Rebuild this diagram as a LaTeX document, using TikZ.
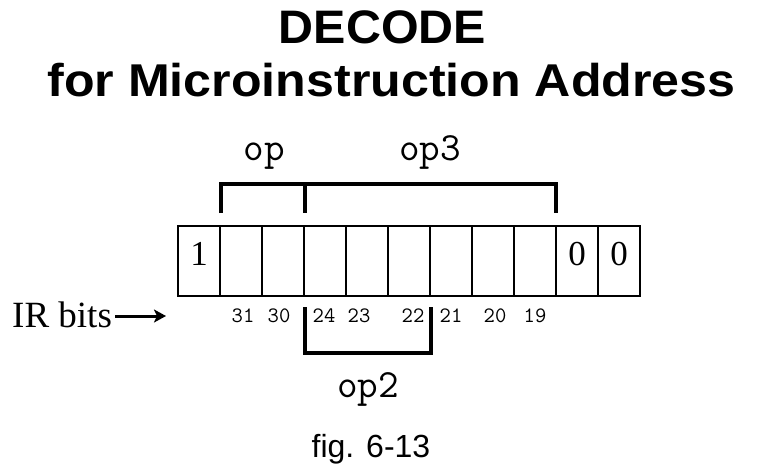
\documentclass[tikz,border=0pt]{standalone}
\usepackage{fontspec}
\setmainfont{Liberation Serif}
\newfontfamily\arialf{Liberation Sans}
\usetikzlibrary{arrows.meta,calc}
\begin{document}
\begin{tikzpicture}[x=1pt,y=-1pt,
  cell/.style={draw,line width=2pt,minimum width=42pt,minimum height=70pt,inner sep=0pt,outer sep=0pt,anchor=center,text height=8pt,text depth=0pt,font=\fontsize{35}{35}\selectfont},
  fieldlbl/.style={anchor=base,inner sep=0pt,font=\ttfamily\fontsize{40}{40}\selectfont},
  bitnum/.style={anchor=base,inner sep=0pt,font=\ttfamily\fontsize{22}{22}\selectfont},
  brk/.style={line width=4pt,line join=miter},
  titlef/.style={anchor=base,inner sep=0pt},
  ]
\useasboundingbox (0,0) rectangle (764,471);
% title
\node[titlef] (t1) at (382.5,43) {\scalebox{1.03}[1]{\arialf\bfseries\fontsize{47}{47}\selectfont DECODE}};
\node[titlef] (t2) at (391.5,96) {\scalebox{1.09}[1]{\arialf\bfseries\fontsize{46}{46}\selectfont for Microinstruction Address}};
% cells
\foreach \i/\t in {1/1,2/,3/,4/,5/,6/,7/,8/,9/,10/0,11/0}
  \node[cell] (c\i) at ({199+42*(\i-1)},261) {\t};
% field labels
\node[fieldlbl] (op) at (264,160) {op};
\node[fieldlbl] (op3) at (430,160) {op3};
\node[fieldlbl] (op2) at (368,397) {op2};
% top bracket
\draw[brk] (221,213) -- (221,184) -- (556,184) -- (556,213);
\draw[brk] (305,184) -- (305,213);
% bottom bracket
\draw[brk] (305,307) -- (305,353) -- (431,353) -- (431,307);
% bit numbers
\foreach \n/\x in {31/243,30/279,24/324,23/359,22/413,21/451,20/495,19/535}
  \node[bitnum] (b\n) at (\x,322) {\n};
% IR bits
\node[anchor=base west,inner sep=0pt,font=\fontsize{37}{37}\selectfont] (ir) at (12,327) {IR bits};
\coordinate (as) at (115,316);
\coordinate (ae) at (166,316);
\draw[line width=3pt,-{Stealth[length=12pt,width=13pt,inset=3pt]}] (as) -- (ae);
% caption
\node[titlef] (fig) at (371,457) {\arialf\fontsize{32}{32}\selectfont fig. 6-13};
\end{tikzpicture}
\end{document}
